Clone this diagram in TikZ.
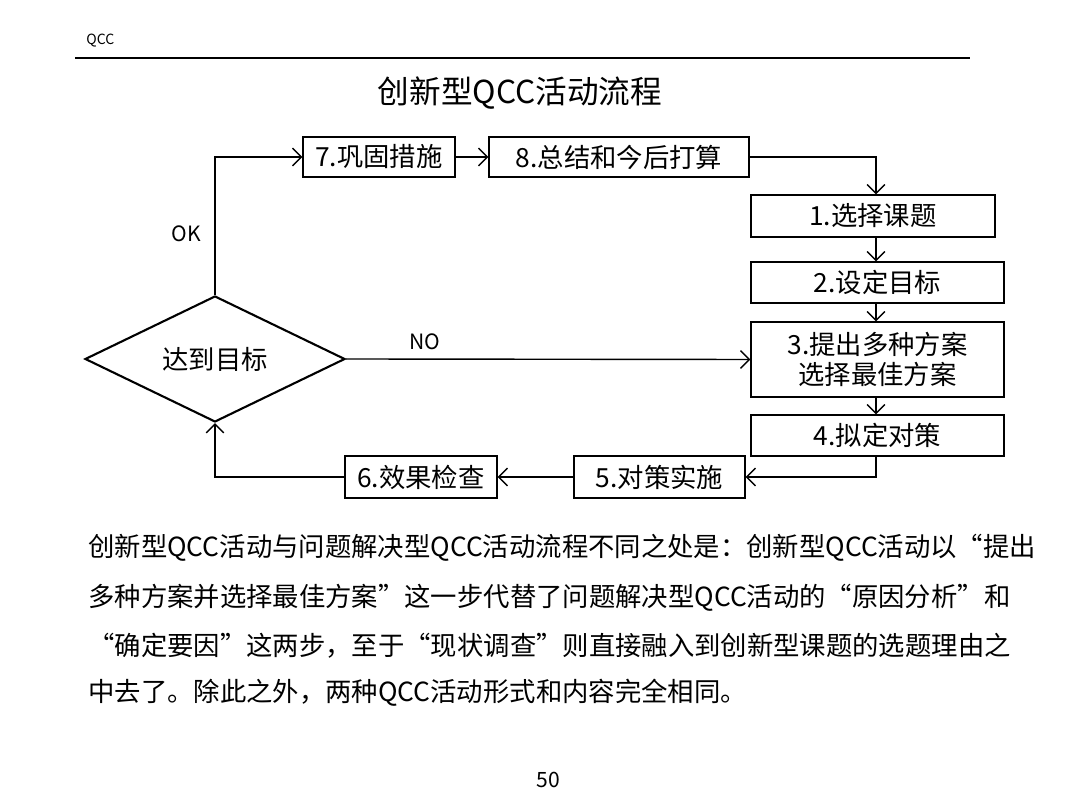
\documentclass[tikz,border=0pt]{standalone}
\usepackage{fontspec}
\setmainfont{Noto Sans CJK SC}
\usetikzlibrary{shapes.geometric,arrows.meta,positioning}
\tikzset{
  stepbox/.style={draw,thick,rectangle,inner sep=0pt,font=\fontsize{15}{17}\selectfont},
  flow/.style={thick,-{Straight Barb[length=5pt]}},
  para/.style={anchor=west,inner sep=0pt,font=\fontsize{15}{17}\selectfont}
}
\begin{document}
\begin{tikzpicture}[x=0.02cm,y=-0.02cm]
\useasboundingbox (0,0) rectangle (1080,810);
% header
\node[anchor=west,inner sep=0pt,font=\fontsize{8}{9}\selectfont] (head) at (86,41) {QCC};
\coordinate (hl) at (75,58);
\coordinate (hr) at (970,58);
\draw[thick] (hl) -- (hr);
\node[inner sep=0pt,font=\fontsize{18}{20}\selectfont] (title) at (520,93) {创新型QCC活动流程};
% steps
\node[stepbox,minimum width=152*0.02cm,minimum height=40*0.02cm] (s7) at (379,157) {7.巩固措施};
\node[stepbox,minimum width=260*0.02cm,minimum height=40*0.02cm] (s8) at (619,157) {8.总结和今后打算};
\node[stepbox,minimum width=244*0.02cm,minimum height=42*0.02cm] (s1) at (873,216) {1.选择课题};
\node[stepbox,minimum width=253*0.02cm,minimum height=41*0.02cm] (s2) at (877.5,282.5) {2.设定目标};
\node[stepbox,align=center,minimum width=253*0.02cm,minimum height=75*0.02cm] (s3) at (877.5,359.5) {3.提出多种方案\\选择最佳方案};
\node[stepbox,minimum width=253*0.02cm,minimum height=41*0.02cm] (s4) at (877.5,435.5) {4.拟定对策};
\node[stepbox,minimum width=171*0.02cm,minimum height=42*0.02cm] (s5) at (659.5,477) {5.对策实施};
\node[stepbox,minimum width=152*0.02cm,minimum height=42*0.02cm] (s6) at (421,477) {6.效果检查};
\node[draw,very thick,diamond,aspect=2.06,inner sep=0pt,minimum width=260*0.02cm,minimum height=126*0.02cm,font=\fontsize{15}{17}\selectfont] (goal) at (215,359) {达到目标};
% connectors
\coordinate (c1) at (215,157);
\coordinate (c2) at (876,157);
\coordinate (c3) at (876,477);
\coordinate (c4) at (215,477);
\draw[flow] (goal.north) -- (c1) -- (s7.west);
\draw[flow] (s7) -- (s8);
\draw[flow] (s8.east) -- (c2) -- (s1.north -| c2);
\draw[flow] (s1.south -| c2) -- (s2.north -| c2);
\draw[flow] (s2.south -| c2) -- (s3.north -| c2);
\draw[flow] (s3.south -| c2) -- (s4.north -| c2);
\draw[flow] (s4.south -| c2) -- (c3) -- (s5.east);
\draw[flow] (s5) -- (s6);
\draw[flow] (s6.west) -- (c4) -- (goal.south);
\draw[flow] (goal.east) -- (s3.west);
\node[font=\fontsize{12}{14}\selectfont] (ok) at (186,234) {OK};
\node[font=\fontsize{12}{14}\selectfont] (no) at (425,342) {NO};
% paragraph
\node[para] (p1) at (88,548) {创新型QCC活动与问题解决型QCC活动流程不同之处是：创新型QCC活动以“提出};
\node[para] (p2) at (88,598) {多种方案并选择最佳方案”这一步代替了问题解决型QCC活动的“原因分析”和};
\node[para] (p3) at (88,646) {“确定要因”这两步，至于“现状调查”则直接融入到创新型课题的选题理由之};
\node[para] (p4) at (88,693) {中去了。除此之外，两种QCC活动形式和内容完全相同。};
\node[font=\fontsize{12}{14}\selectfont] (page) at (548,780) {50};
\end{tikzpicture}
\end{document}
